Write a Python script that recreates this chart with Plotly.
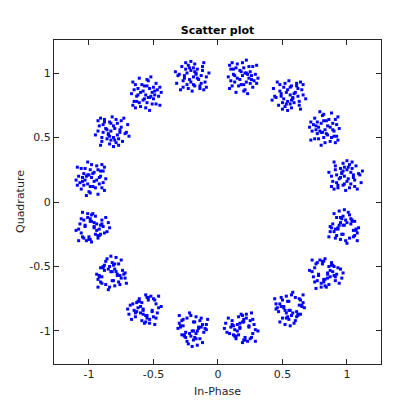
import plotly.graph_objects as go

# In-phase values, one line per constellation cluster
in_phase = (
    [1.00,0.92,1.06,0.97,1.02,0.89,1.09,0.98,0.95,1.04,0.93,1.01,0.86,1.07,0.99,0.91,1.03,0.96,1.11,0.94,1.05,0.90,1.00,0.88,1.02,0.97,1.08,0.92,0.98,1.12,0.95,1.03,0.91,1.00,1.06,0.97,0.88,1.04,0.98,0.93,1.10,0.96,1.01,0.90,1.05]
  + [0.78,0.82,0.86,0.90,0.74,0.87,0.81,0.83,0.77,0.77,0.92,0.85,0.80,0.75,0.94,0.75,0.89,0.81,0.88,0.85,0.82,0.72,0.71,0.91,0.92,0.79,0.93,0.88,0.76,0.79,0.84,0.80,0.78,0.87,0.91,0.73,0.83,0.72,0.89,0.90,0.82,0.80,0.76,0.93,0.84]
  + [0.54,0.62,0.48,0.57,0.52,0.65,0.45,0.56,0.59,0.50,0.61,0.53,0.68,0.47,0.55,0.63,0.51,0.58,0.43,0.60,0.49,0.64,0.54,0.66,0.52,0.57,0.46,0.62,0.56,0.42,0.59,0.51,0.63,0.54,0.48,0.57,0.66,0.50,0.56,0.61,0.44,0.58,0.53,0.64,0.49]
  + [0.24,0.20,0.16,0.12,0.28,0.15,0.21,0.19,0.25,0.25,0.10,0.17,0.22,0.27,0.08,0.27,0.13,0.21,0.14,0.17,0.20,0.30,0.31,0.11,0.10,0.23,0.09,0.14,0.26,0.23,0.18,0.22,0.24,0.15,0.11,0.29,0.19,0.30,0.13,0.12,0.20,0.22,0.26,0.09,0.18]
  + [-0.21,-0.13,-0.27,-0.18,-0.23,-0.10,-0.30,-0.19,-0.16,-0.25,-0.14,-0.22,-0.07,-0.28,-0.20,-0.12,-0.24,-0.17,-0.32,-0.15,-0.26,-0.11,-0.21,-0.09,-0.23,-0.18,-0.29,-0.13,-0.19,-0.33,-0.16,-0.24,-0.12,-0.21,-0.27,-0.18,-0.09,-0.25,-0.19,-0.14,-0.31,-0.17,-0.22,-0.11,-0.26]
  + [-0.51,-0.55,-0.59,-0.63,-0.47,-0.60,-0.54,-0.56,-0.50,-0.50,-0.65,-0.58,-0.53,-0.48,-0.67,-0.48,-0.62,-0.54,-0.61,-0.58,-0.55,-0.45,-0.44,-0.64,-0.65,-0.52,-0.66,-0.61,-0.49,-0.52,-0.57,-0.53,-0.51,-0.60,-0.64,-0.46,-0.56,-0.45,-0.62,-0.63,-0.55,-0.53,-0.49,-0.66,-0.57]
  + [-0.81,-0.89,-0.75,-0.84,-0.79,-0.92,-0.72,-0.83,-0.86,-0.77,-0.88,-0.80,-0.95,-0.74,-0.82,-0.90,-0.78,-0.85,-0.70,-0.87,-0.76,-0.91,-0.81,-0.93,-0.79,-0.84,-0.73,-0.89,-0.83,-0.69,-0.86,-0.78,-0.90,-0.81,-0.75,-0.84,-0.93,-0.77,-0.83,-0.88,-0.71,-0.85,-0.80,-0.91,-0.76]
  + [-1.03,-0.99,-0.95,-0.91,-1.07,-0.94,-1.00,-0.98,-1.04,-1.04,-0.89,-0.96,-1.01,-1.06,-0.87,-1.06,-0.92,-1.00,-0.93,-0.96,-0.99,-1.09,-1.10,-0.90,-0.89,-1.02,-0.88,-0.93,-1.05,-1.02,-0.97,-1.01,-1.03,-0.94,-0.90,-1.08,-0.98,-1.09,-0.92,-0.91,-0.99,-1.01,-1.05,-0.88,-0.97]
  + [-0.96,-1.04,-0.90,-0.99,-0.94,-1.07,-0.87,-0.98,-1.01,-0.92,-1.03,-0.95,-1.10,-0.89,-0.97,-1.05,-0.93,-1.00,-0.85,-1.02,-0.91,-1.06,-0.96,-1.08,-0.94,-0.99,-0.88,-1.04,-0.98,-0.84,-1.01,-0.93,-1.05,-0.96,-0.90,-0.99,-1.08,-0.92,-0.98,-1.03,-0.86,-1.00,-0.95,-1.06,-0.91]
  + [-0.83,-0.77,-0.77,-0.92,-0.85,-0.80,-0.75,-0.94,-0.75,-0.89,-0.81,-0.88,-0.85,-0.82,-0.72,-0.71,-0.91,-0.92,-0.79,-0.93,-0.88,-0.76,-0.79,-0.84,-0.80,-0.78,-0.87,-0.91,-0.73,-0.83,-0.72,-0.89,-0.90,-0.82,-0.80,-0.76,-0.93,-0.84,-0.78,-0.82,-0.86,-0.90,-0.74,-0.87,-0.81]
  + [-0.58,-0.50,-0.64,-0.55,-0.60,-0.47,-0.67,-0.56,-0.53,-0.62,-0.51,-0.59,-0.44,-0.65,-0.57,-0.49,-0.61,-0.54,-0.69,-0.52,-0.63,-0.48,-0.58,-0.46,-0.60,-0.55,-0.66,-0.50,-0.56,-0.70,-0.53,-0.61,-0.49,-0.58,-0.64,-0.55,-0.46,-0.62,-0.56,-0.51,-0.68,-0.54,-0.59,-0.48,-0.63]
  + [-0.20,-0.14,-0.14,-0.29,-0.22,-0.17,-0.12,-0.31,-0.12,-0.26,-0.18,-0.25,-0.22,-0.19,-0.09,-0.08,-0.28,-0.29,-0.16,-0.30,-0.25,-0.13,-0.16,-0.21,-0.17,-0.15,-0.24,-0.28,-0.10,-0.20,-0.09,-0.26,-0.27,-0.19,-0.17,-0.13,-0.30,-0.21,-0.15,-0.19,-0.23,-0.27,-0.11,-0.24,-0.18]
  + [0.17,0.25,0.11,0.20,0.15,0.28,0.08,0.19,0.22,0.13,0.24,0.16,0.31,0.10,0.18,0.26,0.14,0.21,0.06,0.23,0.12,0.27,0.17,0.29,0.15,0.20,0.09,0.25,0.19,0.05,0.22,0.14,0.26,0.17,0.11,0.20,0.29,0.13,0.19,0.24,0.07,0.21,0.16,0.27,0.12]
  + [0.56,0.50,0.50,0.65,0.58,0.53,0.48,0.67,0.48,0.62,0.54,0.61,0.58,0.55,0.45,0.44,0.64,0.65,0.52,0.66,0.61,0.49,0.52,0.57,0.53,0.51,0.60,0.64,0.46,0.56,0.45,0.62,0.63,0.55,0.53,0.49,0.66,0.57,0.51,0.55,0.59,0.63,0.47,0.60,0.54]
  + [0.85,0.77,0.91,0.82,0.87,0.74,0.94,0.83,0.80,0.89,0.78,0.86,0.71,0.92,0.84,0.76,0.88,0.81,0.96,0.79,0.90,0.75,0.85,0.73,0.87,0.82,0.93,0.77,0.83,0.97,0.80,0.88,0.76,0.85,0.91,0.82,0.73,0.89,0.83,0.78,0.95,0.81,0.86,0.75,0.90]
  + [0.98,0.92,0.92,1.07,1.00,0.95,0.90,1.09,0.90,1.04,0.96,1.03,1.00,0.97,0.87,0.86,1.06,1.07,0.94,1.08,1.03,0.91,0.94,0.99,0.95,0.93,1.02,1.06,0.88,0.98,0.87,1.04,1.05,0.97,0.95,0.91,1.08,0.99,0.93,0.97,1.01,1.05,0.89,1.02,0.96]
)

# Quadrature values, same cluster order
quadrature = (
    [0.25,0.21,0.17,0.13,0.29,0.16,0.22,0.20,0.26,0.26,0.11,0.18,0.23,0.28,0.09,0.28,0.14,0.22,0.15,0.18,0.21,0.31,0.32,0.12,0.11,0.24,0.10,0.15,0.27,0.24,0.19,0.23,0.25,0.16,0.12,0.30,0.20,0.31,0.14,0.13,0.21,0.23,0.27,0.10,0.19]
  + [0.58,0.50,0.64,0.55,0.60,0.47,0.67,0.56,0.53,0.62,0.51,0.59,0.44,0.65,0.57,0.49,0.61,0.54,0.69,0.52,0.63,0.48,0.58,0.46,0.60,0.55,0.66,0.50,0.56,0.70,0.53,0.61,0.49,0.58,0.64,0.55,0.46,0.62,0.56,0.51,0.68,0.54,0.59,0.48,0.63]
  + [0.78,0.82,0.86,0.90,0.74,0.87,0.81,0.83,0.77,0.77,0.92,0.85,0.80,0.75,0.94,0.75,0.89,0.81,0.88,0.85,0.82,0.72,0.71,0.91,0.92,0.79,0.93,0.88,0.76,0.79,0.84,0.80,0.78,0.87,0.91,0.73,0.83,0.72,0.89,0.90,0.82,0.80,0.76,0.93,0.84]
  + [0.96,1.04,0.90,0.99,0.94,1.07,0.87,0.98,1.01,0.92,1.03,0.95,1.10,0.89,0.97,1.05,0.93,1.00,0.85,1.02,0.91,1.06,0.96,1.08,0.94,0.99,0.88,1.04,0.98,0.84,1.01,0.93,1.05,0.96,0.90,0.99,1.08,0.92,0.98,1.03,0.86,1.00,0.95,1.06,0.91]
  + [1.02,0.98,0.94,0.90,1.06,0.93,0.99,0.97,1.03,1.03,0.88,0.95,1.00,1.05,0.86,1.05,0.91,0.99,0.92,0.95,0.98,1.08,1.09,0.89,0.88,1.01,0.87,0.92,1.04,1.01,0.96,1.00,1.02,0.93,0.89,1.07,0.97,1.08,0.91,0.90,0.98,1.00,1.04,0.87,0.96]
  + [0.85,0.77,0.91,0.82,0.87,0.74,0.94,0.83,0.80,0.89,0.78,0.86,0.71,0.92,0.84,0.76,0.88,0.81,0.96,0.79,0.90,0.75,0.85,0.73,0.87,0.82,0.93,0.77,0.83,0.97,0.80,0.88,0.76,0.85,0.91,0.82,0.73,0.89,0.83,0.78,0.95,0.81,0.86,0.75,0.90]
  + [0.50,0.54,0.58,0.62,0.46,0.59,0.53,0.55,0.49,0.49,0.64,0.57,0.52,0.47,0.66,0.47,0.61,0.53,0.60,0.57,0.54,0.44,0.43,0.63,0.64,0.51,0.65,0.60,0.48,0.51,0.56,0.52,0.50,0.59,0.63,0.45,0.55,0.44,0.61,0.62,0.54,0.52,0.48,0.65,0.56]
  + [0.17,0.25,0.11,0.20,0.15,0.28,0.08,0.19,0.22,0.13,0.24,0.16,0.31,0.10,0.18,0.26,0.14,0.21,0.06,0.23,0.12,0.27,0.17,0.29,0.15,0.20,0.09,0.25,0.19,0.05,0.22,0.14,0.26,0.17,0.11,0.20,0.29,0.13,0.19,0.24,0.07,0.21,0.16,0.27,0.12]
  + [-0.20,-0.14,-0.14,-0.29,-0.22,-0.17,-0.12,-0.31,-0.12,-0.26,-0.18,-0.25,-0.22,-0.19,-0.09,-0.08,-0.28,-0.29,-0.16,-0.30,-0.25,-0.13,-0.16,-0.21,-0.17,-0.15,-0.24,-0.28,-0.10,-0.20,-0.09,-0.26,-0.27,-0.19,-0.17,-0.13,-0.30,-0.21,-0.15,-0.19,-0.23,-0.27,-0.11,-0.24,-0.18]
  + [-0.54,-0.62,-0.48,-0.57,-0.52,-0.65,-0.45,-0.56,-0.59,-0.50,-0.61,-0.53,-0.68,-0.47,-0.55,-0.63,-0.51,-0.58,-0.43,-0.60,-0.49,-0.64,-0.54,-0.66,-0.52,-0.57,-0.46,-0.62,-0.56,-0.42,-0.59,-0.51,-0.63,-0.54,-0.48,-0.57,-0.66,-0.50,-0.56,-0.61,-0.44,-0.58,-0.53,-0.64,-0.49]
  + [-0.83,-0.89,-0.89,-0.74,-0.81,-0.86,-0.91,-0.72,-0.91,-0.77,-0.85,-0.78,-0.81,-0.84,-0.94,-0.95,-0.75,-0.74,-0.87,-0.73,-0.78,-0.90,-0.87,-0.82,-0.86,-0.88,-0.79,-0.75,-0.93,-0.83,-0.94,-0.77,-0.76,-0.84,-0.86,-0.90,-0.73,-0.82,-0.88,-0.84,-0.80,-0.76,-0.92,-0.79,-0.85]
  + [-1.00,-0.92,-1.06,-0.97,-1.02,-0.89,-1.09,-0.98,-0.95,-1.04,-0.93,-1.01,-0.86,-1.07,-0.99,-0.91,-1.03,-0.96,-1.11,-0.94,-1.05,-0.90,-1.00,-0.88,-1.02,-0.97,-1.08,-0.92,-0.98,-1.12,-0.95,-1.03,-0.91,-1.00,-1.06,-0.97,-0.88,-1.04,-0.98,-0.93,-1.10,-0.96,-1.01,-0.90,-1.05]
  + [-0.98,-0.92,-0.92,-1.07,-1.00,-0.95,-0.90,-1.09,-0.90,-1.04,-0.96,-1.03,-1.00,-0.97,-0.87,-0.86,-1.06,-1.07,-0.94,-1.08,-1.03,-0.91,-0.94,-0.99,-0.95,-0.93,-1.02,-1.06,-0.88,-0.98,-0.87,-1.04,-1.05,-0.97,-0.95,-0.91,-1.08,-0.99,-0.93,-0.97,-1.01,-1.05,-0.89,-1.02,-0.96]
  + [-0.84,-0.76,-0.90,-0.81,-0.86,-0.73,-0.93,-0.82,-0.79,-0.88,-0.77,-0.85,-0.70,-0.91,-0.83,-0.75,-0.87,-0.80,-0.95,-0.78,-0.89,-0.74,-0.84,-0.72,-0.86,-0.81,-0.92,-0.76,-0.82,-0.96,-0.79,-0.87,-0.75,-0.84,-0.90,-0.81,-0.72,-0.88,-0.82,-0.77,-0.94,-0.80,-0.85,-0.74,-0.89]
  + [-0.55,-0.61,-0.61,-0.46,-0.53,-0.58,-0.63,-0.44,-0.63,-0.49,-0.57,-0.50,-0.53,-0.56,-0.66,-0.67,-0.47,-0.46,-0.59,-0.45,-0.50,-0.62,-0.59,-0.54,-0.58,-0.60,-0.51,-0.47,-0.65,-0.55,-0.66,-0.49,-0.48,-0.56,-0.58,-0.62,-0.45,-0.54,-0.60,-0.56,-0.52,-0.48,-0.64,-0.51,-0.57]
  + [-0.18,-0.26,-0.12,-0.21,-0.16,-0.29,-0.09,-0.20,-0.23,-0.14,-0.25,-0.17,-0.32,-0.11,-0.19,-0.27,-0.15,-0.22,-0.07,-0.24,-0.13,-0.28,-0.18,-0.30,-0.16,-0.21,-0.10,-0.26,-0.20,-0.06,-0.23,-0.15,-0.27,-0.18,-0.12,-0.21,-0.30,-0.14,-0.20,-0.25,-0.08,-0.22,-0.17,-0.28,-0.13]
)

tick_vals = [-1, -0.5, 0, 0.5, 1]
tick_text = ["-1", "-0.5", "0", "0.5", "1"]

FONT = "DejaVu Sans, Liberation Sans, Arial, sans-serif"
AX = "#262626"

fig = go.Figure(
    go.Scatter(
        x=in_phase, y=quadrature, mode="markers",
        marker=dict(symbol="square", size=3, color="#0000FF", line=dict(width=0)),
        hoverinfo="skip",
    )
)

axis_common = dict(
    showgrid=False, zeroline=False, showline=True, linecolor=AX, linewidth=1,
    mirror="allticks", ticks="inside", ticklen=5, tickcolor=AX, tickwidth=1,
    tickvals=tick_vals, ticktext=tick_text, automargin=False,
    tickfont=dict(family=FONT, size=11, color=AX),
)

# the page body adds an 8px offset, so the figure is 412px with shifted margins
fig.update_layout(
    width=412, height=412,
    margin=dict(l=46, r=39, t=32, b=56, autoexpand=False),
    paper_bgcolor="white", plot_bgcolor="white",
    showlegend=False,
    font=dict(family=FONT, size=11, color=AX),
    title=dict(text="<b>Scatter plot</b>", x=0.5, xref="paper", automargin=False,
               y=1 - 22 / 412, yref="container", yanchor="middle",
               font=dict(family=FONT, size=11, color="black")),
    xaxis=dict(range=[-1.271, 1.264], **axis_common),
    yaxis=dict(range=[-1.256, 1.256], **axis_common),
    annotations=[
        dict(text="In-Phase", xref="paper", yref="paper", x=0.5, y=-27 / 324,
             xanchor="center", yanchor="middle", showarrow=False,
             font=dict(family=FONT, size=11, color=AX)),
        dict(text="Quadrature", xref="paper", yref="paper", x=-34 / 327, y=0.5,
             xanchor="center", yanchor="middle", textangle=-90, showarrow=False,
             font=dict(family=FONT, size=11, color=AX)),
    ],
)

fig.write_html("out.html")
